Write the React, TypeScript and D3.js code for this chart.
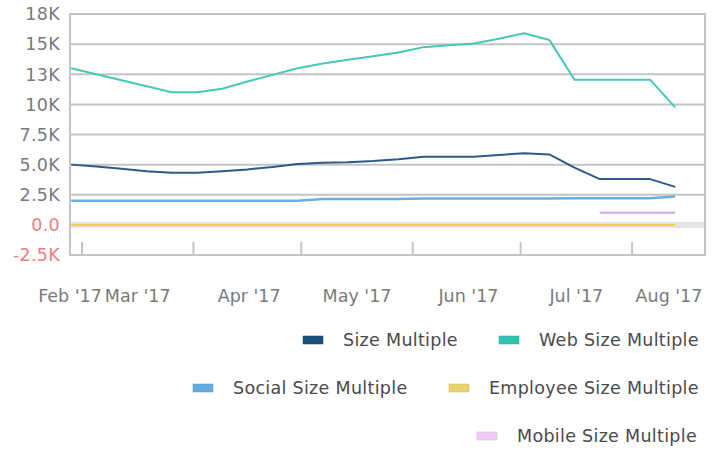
import * as d3 from "d3";

const WIDTH = 721;
const HEIGHT = 451;
const MARGIN = { top: 14, right: 16, bottom: 196, left: 70 };

const DATES = [
  "2017-02-26", "2017-03-05", "2017-03-12", "2017-03-19", "2017-03-26",
  "2017-04-02", "2017-04-09", "2017-04-16", "2017-04-23", "2017-04-30",
  "2017-05-07", "2017-05-14", "2017-05-21", "2017-05-28", "2017-06-04",
  "2017-06-11", "2017-06-18", "2017-06-25", "2017-07-02", "2017-07-09",
  "2017-07-16", "2017-07-23", "2017-07-30", "2017-08-06", "2017-08-13",
];

const SIZE = [
  5000, 4850, 4650, 4450, 4330, 4330, 4450, 4600, 4800, 5050, 5150, 5200,
  5300, 5450, 5650, 5650, 5650, 5800, 5950, 5850, 4750, 3800, 3800, 3800, 3150,
];
const WEB = [
  13000, 12500, 12000, 11500, 11000, 11000, 11300, 11900, 12450, 13000, 13400,
  13700, 14000, 14300, 14750, 14900, 15050, 15450, 15900, 15350, 12050, 12050,
  12050, 12050, 9750,
];
const SOCIAL = [
  2000, 2000, 2000, 2000, 2000, 2000, 2000, 2000, 2000, 2000, 2150, 2150, 2150,
  2150, 2180, 2180, 2180, 2180, 2180, 2180, 2200, 2200, 2200, 2200, 2350,
];
const EMPLOYEE = [
  0, 0, 0, 0, 0, 0, 0, 0, 0, 0, 0, 0, 0, 0, 0, 0, 0, 0, 0, 0, 0, 0, 0, 0, 0,
];
const MOBILE: (number | null)[] = [
  null, null, null, null, null, null, null, null, null, null, null, null, null,
  null, null, null, null, null, null, null, null, 1000, 1000, 1000, 1000,
];

const Y_TICKS = [-2500, 0, 2500, 5000, 7500, 10000, 12500, 15000, 17500];
const Y_LABELS = ["-2.5K", "0.0", "2.5K", "5.0K", "7.5K", "10K", "13K", "15K", "18K"];
const MONTHS = ["Feb '17", "Mar '17", "Apr '17", "May '17", "Jun '17", "Jul '17", "Aug '17"];

const SERIES = [
  { name: "Size Multiple", values: SIZE, color: "#2b5b8a", swatch: "#1d4f7c", width: 2 },
  { name: "Web Size Multiple", values: WEB, color: "#45c9b6", swatch: "#2ec4b0", width: 2 },
  { name: "Social Size Multiple", values: SOCIAL, color: "#6aaee2", swatch: "#64ace0", width: 2.5 },
  { name: "Employee Size Multiple", values: EMPLOYEE, color: "#efcf4f", swatch: "#e8d36e", width: 2 },
  { name: "Mobile Size Multiple", values: MOBILE, color: "#cda6df", swatch: "#f0ccf5", width: 2 },
];

// legend rows, right aligned like the original
const LEGEND = [
  { series: 0, x: 303, y: 340 },
  { series: 1, x: 499, y: 340 },
  { series: 2, x: 193, y: 388 },
  { series: 3, x: 449, y: 388 },
  { series: 4, x: 477, y: 436 },
];

const FONT = "'DejaVu Sans', sans-serif";
const FONT_SIZE = 17.5;

export default function App() {
  const left = MARGIN.left;
  const right = WIDTH - MARGIN.right;
  const top = MARGIN.top;
  const bottom = HEIGHT - MARGIN.bottom;

  const parsed = DATES.map((d) => new Date(d + "T00:00:00Z"));

  const x = d3
    .scaleUtc()
    .domain([new Date(Date.UTC(2017, 1, 25, 16)), new Date(Date.UTC(2017, 7, 21, 7))])
    .range([left, right]);

  const y = d3.scaleLinear().domain([-2500, 17500]).range([bottom, top]);

  const monthTicks = d3.utcMonth.range(new Date(Date.UTC(2017, 2, 1)), new Date(Date.UTC(2017, 7, 2)));

  const line = d3
    .line<number | null>()
    .defined((d) => d !== null)
    .x((_, i) => x(parsed[i]))
    .y((d) => y(d as number));

  const halfLabel = 32;

  return (
    <svg width={WIDTH} height={HEIGHT} style={{ position: "absolute", left: 0, top: 0 }}>
      <rect width={WIDTH} height={HEIGHT} fill="#fff" />

      {Y_TICKS.map((t) =>
        t === 0 ? (
          <line key={t} x1={left} x2={right} y1={y(t)} y2={y(t)} stroke="#e2e4e7" strokeWidth={6} />
        ) : (
          <line key={t} x1={left} x2={right} y1={y(t)} y2={y(t)} stroke="#c3c4c6" strokeWidth={2} />
        )
      )}
      <line x1={left} x2={left} y1={top - 1} y2={bottom + 1} stroke="#c3c4c6" strokeWidth={2} />
      <line x1={right} x2={right} y1={top - 1} y2={bottom + 1} stroke="#c3c4c6" strokeWidth={2} />

      {monthTicks.map((d, i) => (
        <line key={i} x1={x(d)} x2={x(d)} y1={bottom - 13} y2={bottom} stroke="#c3c4c6" strokeWidth={2} />
      ))}

      {Y_TICKS.map((t, i) => (
        <text
          key={t}
          x={60}
          y={y(t)}
          dy="0.36em"
          textAnchor="end"
          fontFamily={FONT}
          fontSize={FONT_SIZE}
          letterSpacing={0.3}
          fill={t <= 0 ? "#f07c80" : "#7a7a7a"}
        >
          {Y_LABELS[i]}
        </text>
      ))}

      {MONTHS.map((m, i) => {
        const mid = new Date(Date.UTC(2017, 1 + i, 16, 12));
        const cx = Math.min(Math.max(x(mid), 38 + halfLabel), 701 - halfLabel);
        return (
          <text
            key={m}
            x={cx}
            y={302}
            textAnchor="middle"
            fontFamily={FONT}
            fontSize={FONT_SIZE}
            fill="#7a7a7a"
          >
            {m}
          </text>
        );
      })}

      {SERIES.map((s) => (
        <path
          key={s.name}
          d={line(s.values) ?? ""}
          fill="none"
          stroke={s.color}
          strokeWidth={s.width}
          strokeLinejoin="round"
        />
      ))}

      {LEGEND.map((l) => {
        const s = SERIES[l.series];
        return (
          <g key={s.name}>
            <rect
              x={l.x}
              y={l.y - 4}
              width={20}
              height={8}
              fill={s.swatch}
              stroke={d3.color(s.swatch)?.darker(0.4).formatHex()}
              strokeWidth={0.5}
            />
            <text
              x={l.x + 40}
              y={l.y}
              dy="0.35em"
              fontFamily={FONT}
              fontSize={FONT_SIZE}
              letterSpacing={0.3}
              fill="#4a4a4a"
            >
              {s.name}
            </text>
          </g>
        );
      })}
    </svg>
  );
}
